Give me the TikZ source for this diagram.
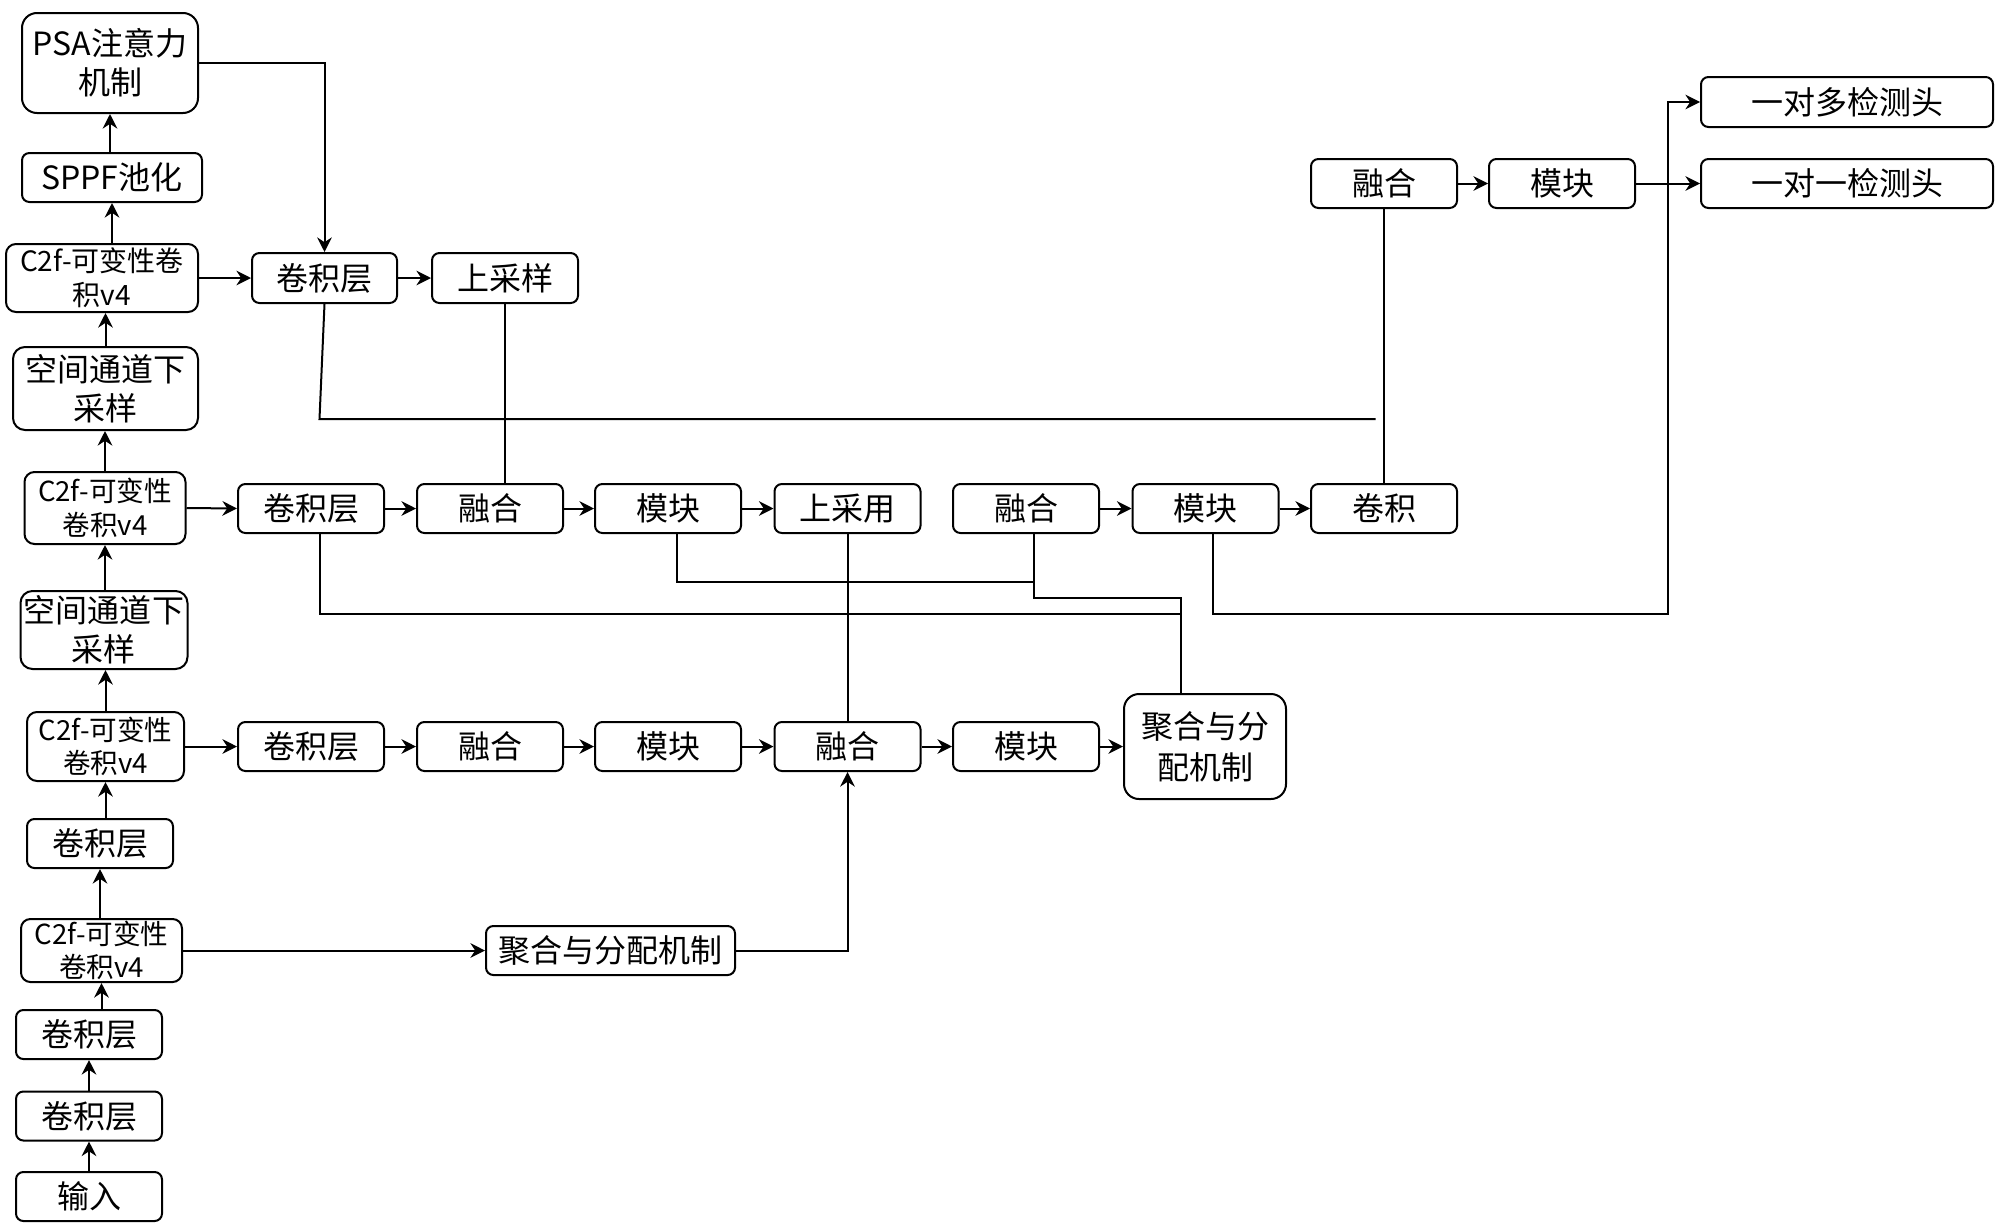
\documentclass[tikz,border=0pt]{standalone}
\usepackage{fontspec}
\setmainfont{Noto Sans CJK SC}
\usetikzlibrary{arrows.meta}
\begin{document}
\begin{tikzpicture}[x=0.5pt,y=-0.5pt,
  box/.style={draw, line width=1pt, rounded corners=3.7pt, align=center, inner sep=0pt,
    minimum width=73pt, minimum height=24.5pt, font=\fontsize{16}{19.5}\selectfont},
  small/.style={font=\fontsize{13.8}{16.8}\selectfont},
  ln/.style={line width=1pt},
  arr/.style={line width=1pt, -{Stealth[length=7.3pt,width=7.3pt,inset=2.4pt]}}]
\path[use as bounding box] (0,0) rectangle (2000,1231);

% left column
\node[box, minimum width=88pt, minimum height=50pt, rounded corners=7.5pt] (psa) at (110,63) {PSA注意力\\机制};
\node[box, minimum width=90pt] (sppf) at (112,177.5) {SPPF池化};
\node[box, small, minimum width=96pt, minimum height=34pt, rounded corners=5pt, font=\fontsize{14}{17}\selectfont] (c2fa) at (102,278) {C2f-可变性卷\\积v4};
\node[box, minimum width=92.5pt, minimum height=41.5pt, rounded corners=6pt] (dsa) at (105.5,388.5) {空间通道下\\采样};
\node[box, small, minimum width=80.5pt, minimum height=36pt, rounded corners=5pt] (c2fb) at (105,508) {C2f-可变性\\卷积v4};
\node[box, minimum width=83.5pt, minimum height=39pt, rounded corners=6pt] (dsb) at (104,630) {空间通道下\\采样};
\node[box, small, minimum width=78.5pt, minimum height=34.5pt, rounded corners=5pt] (c2fc) at (105.5,746.5) {C2f-可变性\\卷积v4};
\node[box] (convl3) at (100,843.5) {卷积层};
\node[box, small, minimum width=80.5pt, minimum height=31.5pt, rounded corners=4.7pt] (c2fd) at (101.5,950.5) {C2f-可变性\\卷积v4};
\node[box] (convl2) at (89,1034.5) {卷积层};
\node[box] (convl1) at (89,1116) {卷积层};
\node[box] (inp) at (89,1196.5) {输入};

% top row
\node[box, minimum width=72.5pt, minimum height=25pt] (convT) at (324.5,278) {卷积层};
\node[box, minimum height=25pt] (upT) at (505,278) {上采样};

% row 2
\node[box] (conv2) at (311,508.5) {卷积层};
\node[box] (fuse2a) at (490,508.5) {融合};
\node[box] (mod2a) at (668,508.5) {模块};
\node[box] (up2) at (847.5,508.5) {上采用};
\node[box] (fuse2b) at (1026,508.5) {融合};
\node[box] (mod2b) at (1205.5,508.5) {模块};
\node[box] (conv2c) at (1384,508.5) {卷积};

% row 3
\node[box] (conv3) at (311,746.5) {卷积层};
\node[box] (fuse3a) at (490,746.5) {融合};
\node[box] (mod3a) at (668,746.5) {模块};
\node[box] (fuse3b) at (847.5,746.5) {融合};
\node[box] (mod3b) at (1026,746.5) {模块};
\node[box, minimum width=81pt, minimum height=52.5pt, rounded corners=7.5pt, font=\fontsize{16}{20.5}\selectfont] (agg3) at (1205,746.5) {聚合与分\\配机制};

% row 4
\node[box, minimum width=124.5pt] (agg4) at (610.5,950.5) {聚合与分配机制};

% top right
\node[box] (fuseT) at (1384,183.5) {融合};
\node[box] (modT) at (1562,183.5) {模块};
\node[box, minimum width=146pt, minimum height=25pt] (onemany) at (1847,102) {一对多检测头};
\node[box, minimum width=146pt] (oneone) at (1847,183.5) {一对一检测头};

% backbone arrows
\draw[arr] (sppf.north -| psa.south) -- (psa.south);
\draw[arr] (c2fa.north -| sppf.south) -- (sppf.south);
\draw[arr] (dsa.north) -- (dsa.north |- c2fa.south);
\draw[arr] (c2fb.north) -- (c2fb.north |- dsa.south);
\draw[arr] (dsb.north -| c2fb.south) -- (c2fb.south);
\draw[arr] (c2fc.north) -- (c2fc.north |- dsb.south);
\draw[arr] (convl3.north -| c2fc.south) -- (c2fc.south);
\draw[arr] (c2fd.north -| convl3.south) -- (convl3.south);
\draw[arr] (convl2.north -| c2fd.south) -- (c2fd.south);
\draw[arr] (convl1.north) -- (convl1.north |- convl2.south);
\draw[arr] (inp.north) -- (inp.north |- convl1.south);

% top
\draw[arr] (psa.east) -| (convT.north);
\draw[arr] (c2fa.east) -- (convT.west);
\draw[arr] (convT.east) -- (upT.west);
\draw[ln] (upT.south) -- (upT.south |- fuse2a.north);
\coordinate (k1) at (319.5,419);
\coordinate (k2) at (1375.5,419);
\draw[ln] (convT.south) -- (k1) -- (k2);
\draw[ln] (fuseT.south) -- (conv2c.north);

% row 2
\draw[arr] (c2fb.east) -- (conv2.west);
\draw[arr] (conv2.east) -- (fuse2a.west);
\draw[arr] (fuse2a.east) -- (mod2a.west);
\draw[arr] (mod2a.east) -- (up2.west);
\draw[arr] (fuse2b.east) -- (mod2b.west);
\draw[arr] (mod2b.east) -- (conv2c.west);

% heads
\draw[arr] (fuseT.east) -- (modT.west);
\draw[arr] (modT.east) -- (oneone.west);
\coordinate (m1) at (1213,614);
\coordinate (m2) at (1668,614);
\draw[arr] (mod2b.south -| m1) -- (m1) -- (m2) |- (onemany.west);

% cross links
\coordinate (a1) at (677,582);
\coordinate (a2) at (1034,582);
\draw[ln] (mod2a.south -| a1) -- (a1) -- (a2);
\coordinate (b1) at (1034,598);
\coordinate (b2) at (1181,598);
\draw[ln] (fuse2b.south -| b1) -- (b1) -- (b2) -- (b2 |- agg3.north);
\coordinate (c1) at (319.5,614);
\draw[ln] (conv2.south -| c1) -- (c1) -- (c1 -| b2);
\draw[ln] (up2.south) -- (up2.south |- fuse3b.north);

% row 3
\draw[arr] (c2fc.east) -- (conv3.west);
\draw[arr] (conv3.east) -- (fuse3a.west);
\draw[arr] (fuse3a.east) -- (mod3a.west);
\draw[arr] (mod3a.east) -- (fuse3b.west);
\draw[arr] (fuse3b.east) -- (mod3b.west);
\draw[arr] (mod3b.east) -- (agg3.west);

% row 4
\draw[arr] (c2fd.east) -- (agg4.west);
\draw[arr] (agg4.east) -| (fuse3b.south);
\end{tikzpicture}
\end{document}
